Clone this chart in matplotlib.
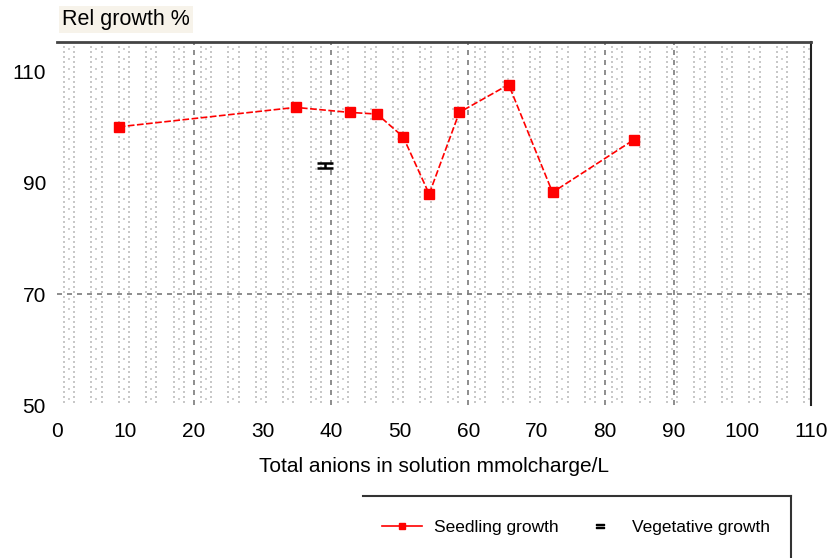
import numpy as np
import matplotlib
matplotlib.use("Agg")
import matplotlib.pyplot as plt
from matplotlib.lines import Line2D

plt.rcParams['font.family'] = ['Liberation Sans', 'DejaVu Sans']

# seedling growth series
anions = [9, 34.8, 42.7, 46.7, 50.5, 54.3, 58.7, 65.9, 72.3, 84.2]
seedling = [100.1, 103.6, 102.7, 102.4, 98.3, 88.0, 102.7, 107.7, 88.3, 97.8]
# vegetative growth (single point)
veg_x = [39.1]
veg_y = [93.1]

x_ticks = [0, 10, 20, 30, 40, 50, 60, 70, 80, 90, 100, 110]
y_ticks = [50, 70, 90, 110]
vgrid = [20, 40, 60, 80, 90]
hgrid = [70]

fig = plt.figure(figsize=(8.3, 5.58), dpi=100)
ax = fig.add_axes([0.0687, 0.274, 0.9083, 0.651])
ax.set_xlim(0, 110)
ax.set_ylim(50, 115.4)

# dotted background pattern
px = []
for k in np.arange(0, 110, 4):
    px += [k + 1.0, k + 2.5]
py = np.arange(50.6, 115.2, 0.9)
gx, gy = np.meshgrid(px, py)
ax.scatter(gx.ravel(), gy.ravel(), s=1.2, marker='s', color='#c8c8c8',
           linewidths=0, zorder=0)
px2 = np.arange(0, 110, 4) + 1.75
gx2, gy2 = np.meshgrid(px2, py[::2] + 0.45)
ax.scatter(gx2.ravel(), gy2.ravel(), s=1.2, marker='s', color='#d0d0d0',
           linewidths=0, zorder=0)

for g in vgrid:
    ax.axvline(g, color='#7a7a7a', lw=1.2, dashes=(3, 3), zorder=1)
for g in hgrid:
    ax.axhline(g, color='#7a7a7a', lw=1.2, dashes=(3, 3), zorder=1)

ax.plot(anions, seedling, color='#ff0000', lw=1.2, dashes=(4, 1.5),
        marker='s', markersize=6.5, zorder=3)
ax.errorbar(veg_x, veg_y, yerr=0.5, fmt='none', ecolor='black',
            elinewidth=1.8, capsize=5.5, capthick=1.8, zorder=3)

ax.set_xticks(x_ticks)
ax.set_yticks(y_ticks)
ax.tick_params(length=0, labelsize=15, pad=8)
ax.tick_params(axis='x', pad=12)
for s in ['left', 'bottom']:
    ax.spines[s].set_visible(False)
ax.spines['top'].set_color('#444444')
ax.spines['top'].set_linewidth(2)
ax.spines['right'].set_color('#222222')
ax.spines['right'].set_linewidth(1.5)

ax.set_xlabel('Total anions in solution mmolcharge/L', fontsize=15, labelpad=12)
fig.text(0.075, 0.965, 'Rel growth %', fontsize=15.5, va='center', ha='left',
         bbox=dict(facecolor='#f7f3ea', edgecolor='none', pad=2))

# legend box (top and right edges only)
fig.add_artist(Line2D([0.437, 0.953], [0.112, 0.112], color='#333333', lw=1.5))
fig.add_artist(Line2D([0.953, 0.953], [0.112, 0.0], color='#333333', lw=1.5))
h1 = Line2D([], [], color='#ff0000', lw=1.2, marker='s', markersize=5)
h2 = Line2D([], [], color='black', lw=0, marker='$\u2550$', markersize=6)
fig.legend([h1, h2], ['Seedling growth', 'Vegetative growth'], ncol=2,
           frameon=False, loc='center', bbox_to_anchor=(0.694, 0.054),
           fontsize=12.5, handlelength=2.3, columnspacing=1.2, handletextpad=0.7)

fig.savefig('out.png', dpi=100)
